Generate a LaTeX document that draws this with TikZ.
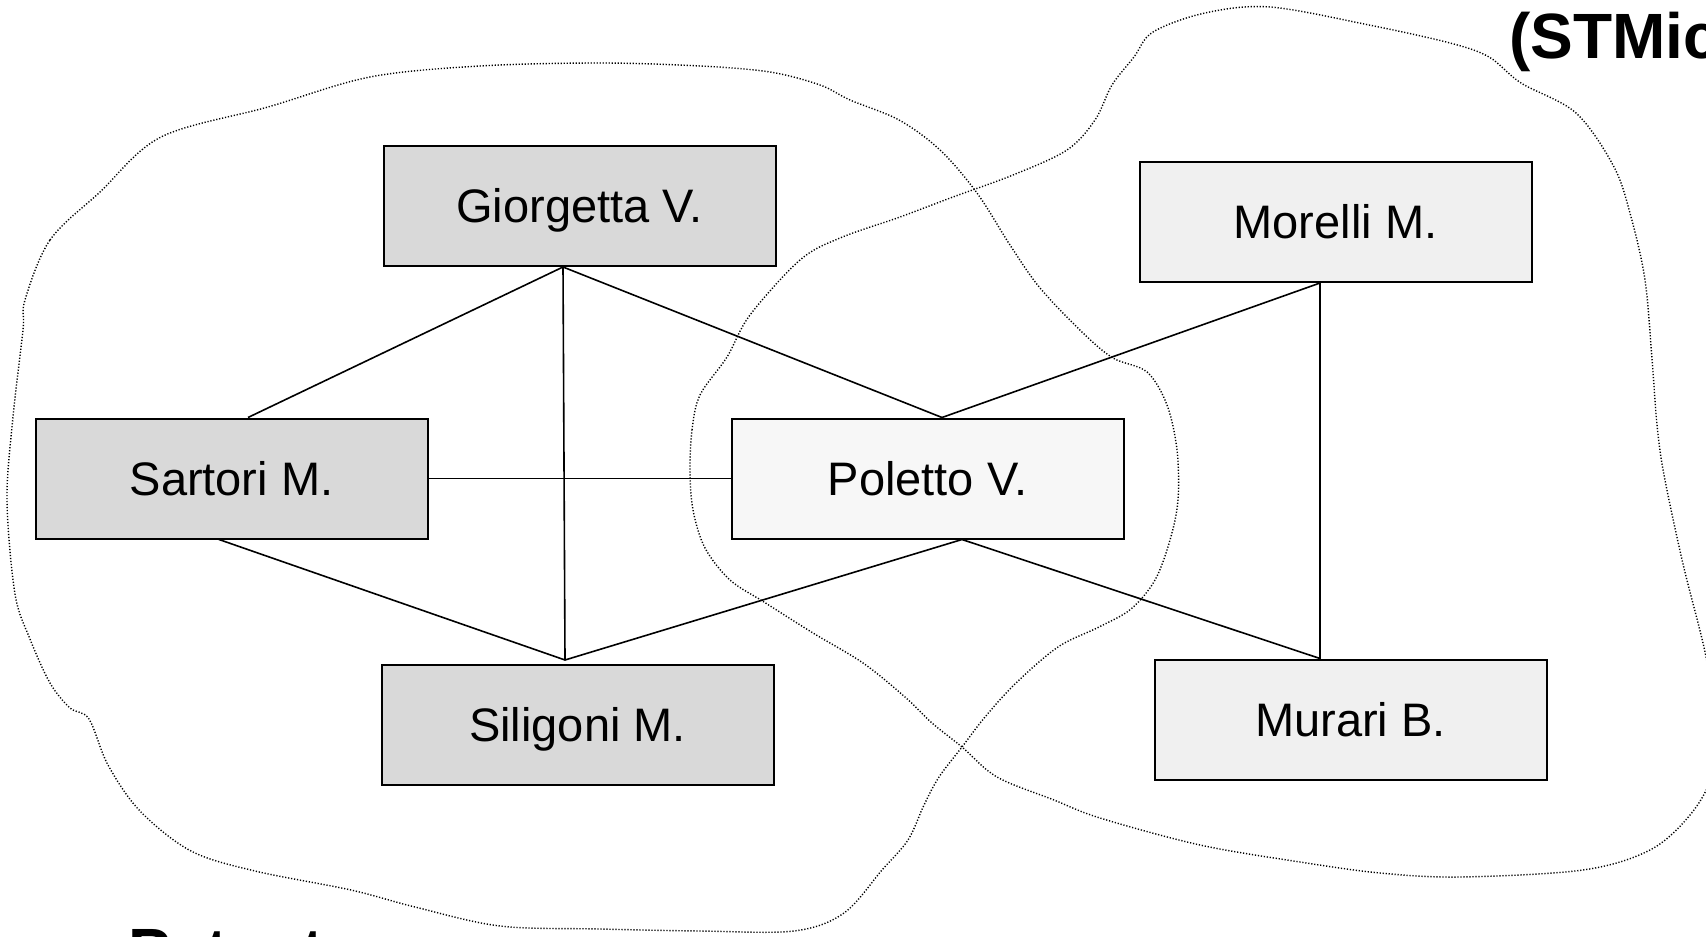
\documentclass[tikz,border=0pt]{standalone}
\usepackage{fontspec}
\setmainfont{Liberation Sans}
\definecolor{grpfill}{HTML}{D9D9D9}
\definecolor{stfill}{HTML}{F0F0F0}
\definecolor{polfill}{HTML}{F7F7F7}
\begin{document}
\begin{tikzpicture}[x=0.5pt,y=-0.5pt,
  person/.style={draw=black, line width=1pt, minimum width=196pt, minimum height=60pt,
    inner sep=0pt, font=\fontsize{23.5}{28}\selectfont, text height=16.8pt, text depth=0pt},
  polimi/.style={person, fill=grpfill},
  stm/.style={person, fill=stfill},
  bridge/.style={person, fill=polfill},
  link/.style={line width=0.8pt, black},
  cluster/.style={line width=0.7pt, black, dash pattern=on 0.6pt off 0.9pt},
  grouptitle/.style={inner sep=0pt, anchor=base west, font=\bfseries\fontsize{32}{38}\selectfont}]
\useasboundingbox (0,0) rectangle (1706,936);

% left cluster
\draw[cluster] plot[smooth cycle, tension=0.55] coordinates {
  (25,300) (50,240) (100,192) (161,137) (268,107) (370,77) (480,66) (600,63)
  (700,66) (770,72) (820,85) (850,100) (899,120) (940,150) (977,193) (1010,245)
  (1040,288) (1083,333) (1113,358) (1147,372) (1167,405) (1177,450) (1178,500)
  (1170,540) (1155,580) (1131,609) (1099,627) (1058,647) (1016,683) (985,717)
  (962,747) (939,777) (924,805) (908,840) (882,870) (844,913) (794,931)
  (700,931) (600,929) (500,926) (415,907) (351,890) (255,871) (191,851)
  (140,811) (108,765) (89,719) (70,708) (50,683) (30,639) (15,594) (7,500)
  (13,417) (23,330)};

% right cluster
\draw[cluster] plot[smooth cycle, tension=0.55] coordinates {
  (690,470) (692,430) (700,395) (727,357) (750,315) (800,260) (840,238)
  (900,217) (953,197) (1013,175) (1067,150) (1095,120) (1112,85) (1134,57)
  (1153,32) (1205,13) (1270,7) (1369,25) (1450,43) (1489,57) (1521,83)
  (1576,113) (1614,167) (1631,217) (1645,280) (1652,359) (1657,425) (1664,475)
  (1683,564) (1705,652) (1716,720) (1712,775) (1690,815) (1650,850) (1583,870)
  (1460,877) (1380,873) (1300,862) (1200,845) (1100,818) (1054,800) (997,777)
  (962,747) (932,723) (905,697) (863,663) (813,633) (764,602) (730,580)
  (705,548) (693,510)};

% people
\node[polimi] (gio) at (579.5,206)   {Giorgetta V.};
\node[polimi] (sar) at (231.5,478.5) {Sartori M.};
\node[polimi] (sil) at (577.5,725)   {Siligoni M.};
\node[bridge] (pol) at (927.5,478.5) {Poletto V.};
\node[stm]    (mor) at (1335.5,222)  {Morelli M.};
\node[stm]    (mur) at (1350.5,719.5) {Murari B.};

% attachment points on the boxes
\coordinate (gioS) at ([xshift=-8.25pt]gio.south);
\coordinate (sarN) at ([xshift=8.25pt]sar.north);
\coordinate (sarS) at ([xshift=-6.25pt]sar.south);
\coordinate (polN) at ([xshift=7.25pt]pol.north);
\coordinate (polS) at ([xshift=17.25pt]pol.south);
\coordinate (silN) at ([xshift=-6.25pt,yshift=2pt]sil.north);
\coordinate (morS) at ([xshift=-7.75pt]mor.south);
\coordinate (murN) at ([xshift=-15.25pt]mur.north);

% collaborations
\draw[link] (gioS) -- (sarN);
\draw[link] (gioS) -- (polN);
\draw[link] (gioS) -- (silN);
\draw[link] (sar.east) -- (pol.west);
\draw[link] (sarS) -- (silN);
\draw[link] (polS) -- (silN);
\draw[link] (morS) -- (polN);
\draw[link] (morS) -- (murN);
\draw[link] (polS) -- (murN);

% group titles, running past the page edge
\node[grouptitle] (stmtitle) at (1509,59) {(STMicroelectronics)};
\node[grouptitle] (pattitle) at (128,973) {Patent};
\end{tikzpicture}
\end{document}
